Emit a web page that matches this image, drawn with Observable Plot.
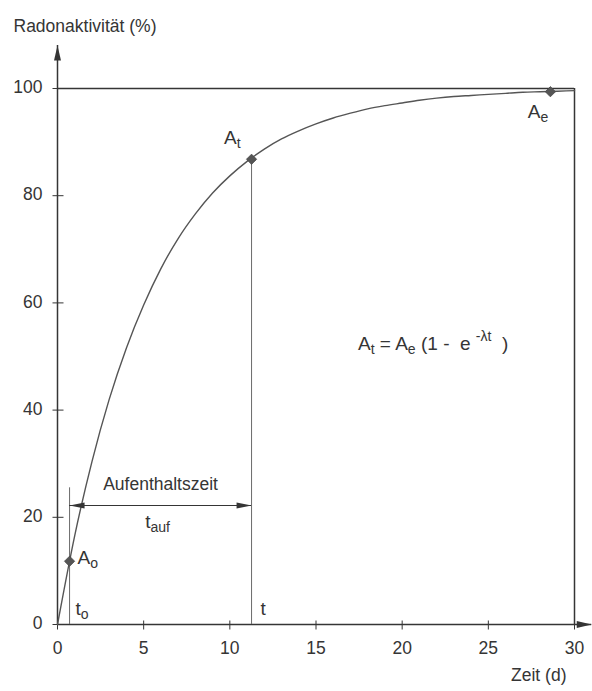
<!DOCTYPE html>
<html><head><meta charset="utf-8">
<script src="https://cdn.jsdelivr.net/npm/d3@7"></script>
<script src="https://cdn.jsdelivr.net/npm/@observablehq/plot@0.6"></script>
<style>
  html, body { margin: 0; padding: 0; background: #fff; }
  #chart svg { display: block; }
</style>
</head><body><div id="chart"></div>
<script>
// ---- data ----
const timeDays    = [0, 1, 2, 3, 4, 5, 6, 7, 8, 9, 10, 11, 12, 13, 14, 15, 16, 17, 18, 19, 20, 21, 22, 23, 24, 25, 26, 27, 28, 29, 30];
const activityPct = [0, 16.6, 30.4, 42, 51.6, 59.6, 66.4, 72, 76.6, 80.5, 83.7, 86.4, 88.7, 90.6, 92.1, 93.4, 94.5, 95.4, 96.2, 96.8, 97.3, 97.8, 98.2, 98.5, 98.7, 98.9, 99.1, 99.3, 99.4, 99.5, 99.6];
const xTicks = [0, 5, 10, 15, 20, 25, 30];
const yTicks = [0, 20, 40, 60, 80, 100];
const xDomain = [0, 30];
const yDomain = [0, 100];
const axisTips = [31, 108];           // x-axis arrow tip (d), y-axis arrow tip (%)
const pointNames = ["A_{o}", "A_{t}", "A_{e}"];
const pointTime  = [0.7, 11.26, 28.6];
const pointPct   = [11.8, 86.8, 99.4];
const stayArrowPct = [22.2];          // level of the "Aufenthaltszeit" arrow
const t0MarkerTop = [25.5];           // top of the t_o marker line
const formulaAt = [21.8, 52.4];       // position of the formula (d, %)
const texts = {
  title: "Radonaktivität (%)",
  xLabel: "Zeit (d)",
  stay: "Aufenthaltszeit",
  tauf: "t_{auf}",
  formula: "A_{t} = A_{e}\u00A0(1 -\u00A0\u00A0e\u00A0^{-λt}\u00A0\u00A0)",
  t0: "t_{o}",
  t: "t"
};

// ---- styling ----
const ink = "#353535";
const curveInk = "#555";
const thin = "#6a6a6a";
const font = "'Liberation Sans', Arial, Helvetica, sans-serif";
const fs = 17.5;
const fsBig = 19;

const curveData = timeDays.map((t, i) => ({t, a: activityPct[i]}));
const points = pointNames.map((n, i) => ({name: n, t: pointTime[i], a: pointPct[i]}));
const [P0, Pt, Pe] = points;

const head = (ux, uy, L = 15, W = 3.5) => ({
  draw(ctx) {
    const bx = -ux * L, by = -uy * L, px = -uy * W, py = ux * W;
    ctx.moveTo(0, 0); ctx.lineTo(bx + px, by + py); ctx.lineTo(bx - px, by - py); ctx.closePath();
  }
});
const hTick = {draw(ctx) { ctx.moveTo(-5, 0); ctx.lineTo(6, 0); }};
const vTick = {draw(ctx) { ctx.moveTo(0, -4); ctx.lineTo(0, 5); }};

const plot = Plot.plot({
  width: 592,
  height: 691,
  marginLeft: 57,
  marginRight: 18,
  marginTop: 88,
  marginBottom: 67,
  x: {domain: xDomain, axis: null},
  y: {domain: yDomain, axis: null},
  style: {fontFamily: font, fontSize: fs + "px", color: ink, background: "#fff"},
  marks: [
    // frame: top line at 100 %, right line at 30 d
    Plot.ruleY([yDomain[1]], {x1: xDomain[0], x2: xDomain[1], stroke: ink, strokeWidth: 1.5}),
    Plot.ruleX([xDomain[1]], {y1: yDomain[0], y2: yDomain[1], stroke: ink, strokeWidth: 1.5}),
    // axes with arrows
    Plot.ruleX([xDomain[0]], {y1: yDomain[0], y2: axisTips[1], stroke: ink, strokeWidth: 1.5}),
    Plot.ruleY([yDomain[0]], {x1: xDomain[0], x2: axisTips[0], stroke: ink, strokeWidth: 1.5}),
    Plot.dot([0], {x: xDomain[0], y: axisTips[1], symbol: head(0, -1), r: 1, fill: ink, stroke: "none"}),
    Plot.dot([0], {x: axisTips[0], y: yDomain[0], symbol: head(1, 0), r: 1, fill: ink, stroke: "none"}),
    // ticks
    Plot.dot(yTicks, {x: xDomain[0], y: d => d, symbol: hTick, r: 1, stroke: ink, strokeWidth: 1, fill: "none"}),
    Plot.dot(xTicks, {x: d => d, y: yDomain[0], symbol: vTick, r: 1, stroke: ink, strokeWidth: 1, fill: "none"}),
    // tick labels
    Plot.text(yTicks, {x: xDomain[0], y: d => d, text: d => String(d), textAnchor: "end", dx: -15, dy: -1, fill: ink, fontSize: fs}),
    Plot.text(xTicks, {x: d => d, y: yDomain[0], text: d => String(d), dy: 24, fill: ink, fontSize: fs}),
    // growth curve
    Plot.line(curveData, {x: "t", y: "a", curve: "monotone-x", stroke: curveInk, strokeWidth: 1.4}),
    // marker lines at t_o and t
    Plot.ruleX([P0], {x: "t", y1: yDomain[0], y2: t0MarkerTop[0], stroke: thin, strokeWidth: 1}),
    Plot.ruleX([Pt], {x: "t", y1: yDomain[0], y2: "a", stroke: thin, strokeWidth: 1}),
    // residence time arrow
    Plot.ruleY(stayArrowPct, {x1: P0.t, x2: Pt.t, y: d => d, stroke: ink, strokeWidth: 1.2}),
    Plot.dot(stayArrowPct, {x: P0.t, y: d => d, symbol: head(-1, 0, 15, 3), r: 1, fill: ink, stroke: "none"}),
    Plot.dot(stayArrowPct, {x: Pt.t, y: d => d, symbol: head(1, 0, 15, 3), r: 1, fill: ink, stroke: "none"}),
    Plot.text(stayArrowPct, {x: (P0.t + Pt.t) / 2, y: d => d, text: () => texts.stay, dy: -21, fill: ink, fontSize: fs}),
    Plot.text(stayArrowPct, {x: (P0.t + Pt.t) / 2, y: d => d, text: () => texts.tauf, dx: -3, dy: 16, fill: ink, fontSize: fsBig}),
    // points
    Plot.dot(points, {x: "t", y: "a", symbol: "diamond2", r: 4.6, fill: "#555", stroke: "#444", strokeWidth: 0.8}),
    Plot.text([P0], {x: "t", y: "a", text: "name", textAnchor: "start", dx: 8, dy: -3, fill: ink, fontSize: fsBig}),
    Plot.text([Pt], {x: "t", y: "a", text: "name", textAnchor: "end", dx: -11, dy: -21, fill: ink, fontSize: fsBig}),
    Plot.text([Pe], {x: "t", y: "a", text: "name", textAnchor: "end", dx: -2, dy: 20, fill: ink, fontSize: fsBig}),
    Plot.text([P0], {x: "t", y: yDomain[0], text: () => texts.t0, textAnchor: "start", dx: 6, dy: -16, fill: ink, fontSize: fsBig}),
    Plot.text([Pt], {x: "t", y: yDomain[0], text: () => texts.t, textAnchor: "start", dx: 9, dy: -16, fill: ink, fontSize: fsBig}),
    // formula
    Plot.text([0], {x: formulaAt[0], y: formulaAt[1], text: () => texts.formula, fill: ink, fontSize: fsBig}),
    // axis titles
    Plot.text([0], {frameAnchor: "top-left", text: () => texts.title, textAnchor: "start", dx: -44, dy: -69, fill: ink, fontSize: fs}),
    Plot.text([0], {frameAnchor: "bottom-right", text: () => texts.xLabel, textAnchor: "end", dx: -8, dy: 56, fill: ink, fontSize: fs})
  ]
});

// render _{sub} and ^{sup} markup as real tspans
d3.select(plot).selectAll("text").each(function () {
  const s = this.textContent;
  if (!/[_^]\{/.test(s)) return;
  const el = d3.select(this);
  el.text(null);
  const re = /([_^])\{([^}]*)\}|[^_^]+/g;
  let m, off = 0;
  while ((m = re.exec(s))) {
    const ts = el.append("tspan");
    let target = 0;
    if (m[1] === "_") { target = 4; ts.text(m[2]).attr("font-size", "0.74em"); }
    else if (m[1] === "^") { target = -9; ts.text(m[2]).attr("font-size", "0.74em"); }
    else ts.text(m[0]);
    if (target !== off) ts.attr("dy", target - off);
    off = target;
  }
});

document.getElementById("chart").appendChild(plot);
</script>
</body></html>
